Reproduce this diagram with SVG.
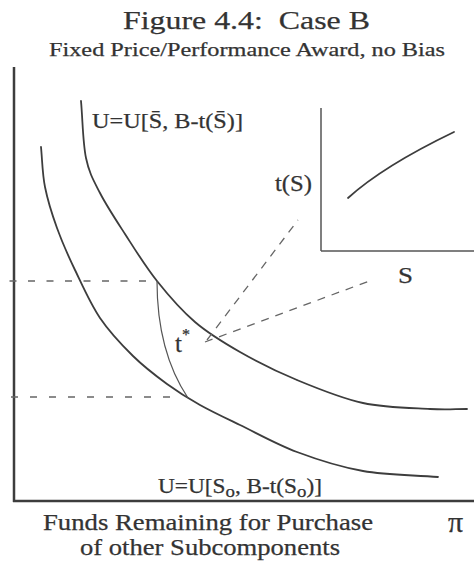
<svg xmlns="http://www.w3.org/2000/svg" width="474" height="571" viewBox="0 0 474 571">
<style>
  .t { font-family: "Liberation Serif", "Times New Roman", serif; fill: #333; stroke: #333; stroke-width: 0.25; }
  .ax { stroke: #3d3d3d; stroke-width: 2.5; fill: none; }
  .inax { stroke: #555; stroke-width: 1.5; fill: none; }
  .crv { stroke: #3d3d3d; stroke-width: 1.8; fill: none; stroke-linecap: round; }
  .thin { stroke: #555; stroke-width: 1.2; fill: none; }
  .dash { stroke: #666; stroke-width: 1.3; fill: none; stroke-dasharray: 7 11.5; }
  .dash2 { stroke: #666; stroke-width: 1.3; fill: none; stroke-dasharray: 8 7; }
</style>
<rect width="474" height="571" fill="#fff"/>
<g id="title">
  <text class="t" x="123" y="29" font-size="26" textLength="247" lengthAdjust="spacingAndGlyphs" xml:space="preserve">Figure 4.4:  Case B</text>
  <text class="t" x="49" y="56" font-size="19" textLength="396" lengthAdjust="spacingAndGlyphs">Fixed Price/Performance Award, no Bias</text>
</g>
<g id="axes">
  <line class="ax" x1="14" y1="67" x2="14" y2="502"/>
  <line class="ax" x1="13" y1="501" x2="474" y2="501"/>
</g>
<g id="inset">
  <line class="inax" x1="321" y1="108" x2="321" y2="251"/>
  <line class="inax" x1="321" y1="251" x2="474" y2="251"/>
  <path class="crv" d="M348,198 C370,178 400,158 454,132"/>
  <text class="t" x="275" y="191" font-size="23" textLength="37" lengthAdjust="spacingAndGlyphs">t(S)</text>
  <text class="t" x="398" y="283" font-size="23" textLength="15" lengthAdjust="spacingAndGlyphs">S</text>
</g>
<g id="curve-sbar">
  <path class="crv" d="M81,101 C82.7,120 82.8,142.7 86,158 C89.2,173.3 93.5,180.3 100,193 C106.5,205.7 115.5,219.3 125,234 C134.5,248.7 145.3,266.3 157,281 C168.7,295.7 181.2,310.2 195,322 C208.8,333.8 223,342.3 240,352 C257,361.7 276.5,371.5 297,380 C317.5,388.5 340.8,398.2 363,403 C385.2,407.8 412.7,408 430,409 C447.3,410 454.7,409 467,409"/>
  <text class="t" x="92" y="128" font-size="22" textLength="151" lengthAdjust="spacingAndGlyphs">U=U[S̄, B-t(S̄)]</text>
</g>
<g id="curve-so">
  <path class="crv" d="M41,147 C42.3,160.3 42.3,173.5 45,187 C47.7,200.5 52,214.2 57,228 C62,241.8 67.8,255 75,270 C82.2,285 90.3,303.7 100,318 C109.7,332.3 121.8,345 133,356 C144.2,367 155.8,375.8 167,384 C178.2,392.2 187.8,398.2 200,405 C212.2,411.8 223.8,417.2 240,425 C256.2,432.8 276.5,444.3 297,452 C317.5,459.7 339.5,466.8 363,471 C386.5,475.2 413,475 438,477"/>
  <text class="t" x="158" y="493" font-size="21" textLength="164" lengthAdjust="spacingAndGlyphs">U=U[S<tspan font-size="17" dy="4">o</tspan><tspan dy="-4">, B-t(S</tspan><tspan font-size="17" dy="4">o</tspan><tspan dy="-4">)]</tspan></text>
</g>
<g id="tstar">
  <path class="thin" d="M157,281 C157,325 166,365 188,398"/>
  <text class="t" x="175" y="352" font-size="25">t<tspan font-size="16" dy="-12">*</tspan></text>
</g>
<g id="connectors">
  <line class="dash" x1="9.5" y1="281" x2="157" y2="281"/>
  <line class="dash" x1="11" y1="397" x2="172" y2="397" style="stroke-dasharray:7 12"/>
  <line class="dash2" x1="207" y1="340" x2="298" y2="220"/>
  <line class="dash2" x1="205" y1="342" x2="372" y2="280"/>
</g>
<g id="xlabel">
  <text class="t" x="43" y="530" font-size="23" textLength="330" lengthAdjust="spacingAndGlyphs">Funds Remaining for Purchase</text>
  <text class="t" x="80" y="555" font-size="23" textLength="260" lengthAdjust="spacingAndGlyphs">of other Subcomponents</text>
  <text class="t" x="448" y="532" font-size="30">π</text>
</g>
</svg>
